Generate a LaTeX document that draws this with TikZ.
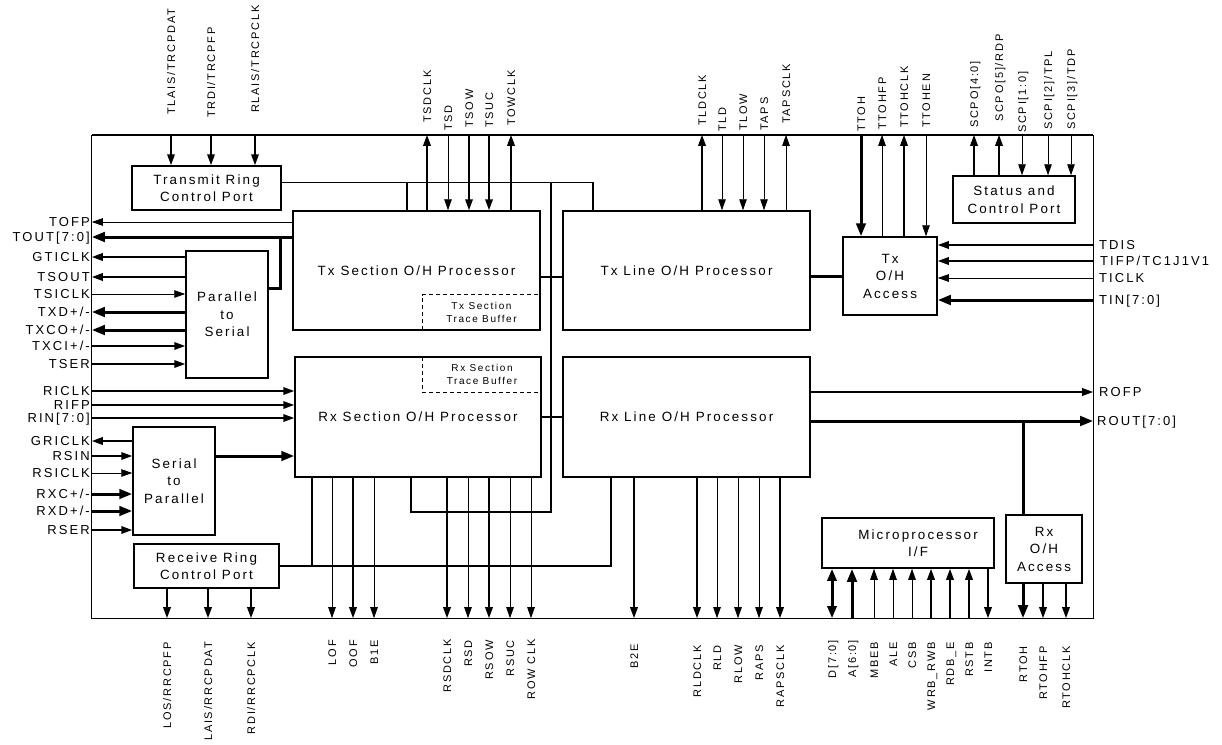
\documentclass[tikz,border=0pt]{standalone}
\usepackage{fontspec}
\newfontfamily\af{Liberation Sans}[LetterSpace=16]
\usetikzlibrary{arrows.meta}
\begin{document}
\begin{tikzpicture}[x=1pt,y=-1pt,
  thn/.style={line width=0.8pt},
  med/.style={line width=1.8pt},
  thk/.style={line width=3pt},
  arr/.style={-{Triangle[length=11pt,width=7.5pt]}},
  arrk/.style={-{Triangle[length=13pt,width=9.5pt]}},
  biarr/.style={{Triangle[length=12pt,width=9pt]}-{Triangle[length=12pt,width=9pt]}},
  blk/.style={draw, line width=1.5pt, inner sep=0pt, align=center, font=\af\fontsize{13.4}{17.5}\selectfont},
  ll/.style={anchor=east, inner sep=0pt, font=\af\fontsize{13}{15}\selectfont, text height=9.4pt, text depth=0pt},
  rl/.style={ll, anchor=west},
  tl/.style={rotate=90, anchor=west, inner sep=0pt, font=\af\fontsize{11}{13}\selectfont, text height=8pt, text depth=0pt},
  bl/.style={tl, anchor=east},
  tbtext/.style={inner sep=0pt, align=center, font=\af\fontsize{10}{13}\selectfont},
  dsh/.style={line width=1.2pt, dash pattern=on 4pt off 3pt},
]
\useasboundingbox (0,0) rectangle (1222,744);

% outer chip
\node[minimum width=1001pt, minimum height=483pt, inner sep=0pt] (chip) at (592.5,376.5) {};
\draw[line width=0.9pt] (chip.north west) -- (chip.south west) -- (chip.south east) -- (chip.north east);
\draw[line width=2.4pt] (chip.north west) -- (chip.north east);

% blocks
\node[blk, minimum width=149pt, minimum height=44pt] (trcp) at (206.5,188) {Transmit Ring\\Control Port};
\node[blk, minimum width=247pt, minimum height=119pt] (txs) at (416.5,270.5) {Tx Section O/H Processor};
\node[blk, minimum width=246pt, minimum height=120pt] (rxs) at (418,417) {Rx Section O/H Processor};
\node[blk, minimum width=247pt, minimum height=119pt] (txl) at (686.5,270.5) {Tx Line O/H Processor};
\node[blk, minimum width=247pt, minimum height=120pt] (rxl) at (686.5,417) {Rx Line O/H Processor};
\node[blk, minimum width=82pt, minimum height=127pt] (p2s) at (227,314.5) {Parallel\\to\\Serial};
\node[blk, minimum width=82pt, minimum height=108pt] (s2p) at (174,481) {Serial\\to\\Parallel};
\node[blk, minimum width=145pt, minimum height=44pt] (rrcp) at (206.5,566) {Receive Ring\\Control Port};
\node[blk, minimum width=94pt, minimum height=78pt] (txoh) at (890,276) {Tx\\O/H\\Access};
\node[blk, minimum width=122pt, minimum height=47pt] (scp) at (1014,199.5) {Status and\\Control Port};
\node[blk, minimum width=172pt, minimum height=50pt,
  label={[blk, draw=none, xshift=10pt]center:Microprocessor\\I/F}] (up) at (908,543) {};
\node[blk, minimum width=76pt, minimum height=68pt] (rxoh) at (1044,549) {Rx\\O/H\\Access};

% trace buffers
\node[tbtext, minimum width=117pt, minimum height=35pt] (txtb) at (481.5,312.5) {Tx Section\\Trace Buffer};
\node[tbtext, minimum width=118pt, minimum height=35pt] (rxtb) at (482,374.5) {Rx Section\\Trace Buffer};
\draw[dsh] (txtb.south west) -- (txtb.north west) -- (txtb.north east);
\draw[dsh] (rxtb.north west) -- (rxtb.south west) -- (rxtb.south east);

% left labels
\node[ll] (tofp) at (90,222) {TOFP};
\node[ll] (tout) at (90,237) {TOUT[7:0]};
\node[ll] (gticlk) at (90,257) {GTICLK};
\node[ll] (tsout) at (90,277) {TSOUT};
\node[ll] (tsiclk) at (90,294) {TSICLK};
\node[ll] (txd) at (90,312) {TXD+/-};
\node[ll] (txco) at (90,330) {TXCO+/-};
\node[ll] (txci) at (90,346) {TXCI+/-};
\node[ll] (tser) at (90,364) {TSER};
\node[ll] (riclk) at (90,391) {RICLK};
\node[ll] (rifp) at (90,405) {RIFP};
\node[ll] (rin) at (90,418) {RIN[7:0]};
\node[ll] (griclk) at (90,441) {GRICLK};
\node[ll] (rsin) at (90,456) {RSIN};
\node[ll] (rsiclk) at (90,473) {RSICLK};
\node[ll] (rxc) at (90,494) {RXC+/-};
\node[ll] (rxd) at (90,511) {RXD+/-};
\node[ll] (rser) at (90,530) {RSER};

% right labels
\node[rl] (tdis) at (1099,245) {TDIS};
\node[rl] (tifp) at (1100,261) {TIFP/TC1J1V1};
\node[rl] (ticlk) at (1099,278) {TICLK};
\node[rl] (tin) at (1099,300) {TIN[7:0]};
\node[rl] (rofp) at (1099,392) {ROFP};
\node[rl] (rout) at (1097,421) {ROUT[7:0]};

% top labels
\node[tl] (tlais) at (171,115) {TLAIS/TRCPDAT};
\node[tl] (trdi) at (211,118) {TRDI/TRCPFP};
\node[tl] (rlais) at (255,113) {RLAIS/TRCPCLK};
\node[tl] (tsdclk) at (427,123) {TSDCLK};
\node[tl] (tsd) at (448,131) {TSD};
\node[tl] (tsow) at (469,128) {TSOW};
\node[tl] (tsuc) at (489,128) {TSUC};
\node[tl] (towclk) at (511,126) {TOWCLK};
\node[tl] (tldclk) at (702,126) {TLDCLK};
\node[tl] (tld) at (722,132) {TLD};
\node[tl] (tlow) at (743,131) {TLOW};
\node[tl] (taps) at (764,131) {TAPS};
\node[tl] (tapsclk) at (786,124) {TAPSCLK};
\node[tl] (ttoh) at (861,132) {TTOH};
\node[tl] (ttohfp) at (882,130) {TTOHFP};
\node[tl] (ttohclk) at (904,128) {TTOHCLK};
\node[tl] (ttohen) at (926,128) {TTOHEN};
\node[tl] (scpo4) at (974,128) {SCPO[4:0]};
\node[tl] (scpo5) at (999,122) {SCPO[5]/RDP};
\node[tl] (scpi1) at (1022,133) {SCPI[1:0]};
\node[tl] (scpi2) at (1048,130) {SCPI[2]/TPL};
\node[tl] (scpi3) at (1071,130) {SCPI[3]/TDP};

% bottom labels
\node[bl] (los) at (167,642) {LOS/RRCPFP};
\node[bl] (lais) at (208,642) {LAIS/RRCPDAT};
\node[bl] (rdi) at (251,642) {RDI/RRCPCLK};
\node[bl] (lof) at (332,640) {LOF};
\node[bl] (oof) at (353,640) {OOF};
\node[bl] (b1e) at (374,640) {B1E};
\node[bl] (rsdclk) at (447,639) {RSDCLK};
\node[bl] (rsd) at (468,640) {RSD};
\node[bl] (rsow) at (489,640) {RSOW};
\node[bl] (rsuc) at (510,640) {RSUC};
\node[bl] (rowclk) at (531,639) {ROW CLK};
\node[bl] (b2e) at (634,644) {B2E};
\node[bl] (rldclk) at (697,645) {RLDCLK};
\node[bl] (rld) at (717,645) {RLD};
\node[bl] (rlow) at (738,645) {RLOW};
\node[bl] (raps) at (759,645) {RAPS};
\node[bl] (rapsclk) at (780,645) {RAPSCLK};
\node[bl] (d70) at (832,640) {D[7:0]};
\node[bl] (a60) at (852,640) {A[6:0]};
\node[bl] (mbeb) at (874,642) {MBEB};
\node[bl] (ale) at (893,642) {ALE};
\node[bl] (csb) at (912,642) {CSB};
\node[bl] (wrb) at (931,642) {WRB\_RWB};
\node[bl] (rdb) at (950,642) {RDB\_E};
\node[bl] (rstb) at (969,642) {RSTB};
\node[bl] (intb) at (988,642) {INTB};
\node[bl] (rtoh) at (1023,646) {RTOH};
\node[bl] (rtohfp) at (1043,646) {RTOHFP};
\node[bl] (rtohclk) at (1066,646) {RTOHCLK};

% internal bus coordinates
\coordinate (b1) at (593,182);
\coordinate (b2) at (407,182);
\coordinate (b3) at (551,182);
\coordinate (b5) at (411,512);
\coordinate (pj) at (280,288);
\coordinate (c312) at (312,566);
\coordinate (c611) at (611,566);

% internal connections
\draw[thn] (trcp.east |- b1) -- (b1);
\draw[med] (b1) -- (b1 |- txl.north);
\draw[med] (b2) -- (b2 |- txs.north);
\draw[med] (b3) |- (b5) -- (b5 |- rxs.south);
\draw[med] ([yshift=-6.5pt]txs.east) -- ([yshift=-6.5pt]txl.west);
\draw[med] (rxs.east) -- (rxl.west);
\draw[thk] (txl.east |- txoh.west) -- (txoh.west);
\draw[thk] (p2s.east |- pj) -- (pj) -- (pj |- tout);
\draw[thk,arrk] (s2p.east |- rsin) -- (rxs.west |- rsin);
\draw[med] (c312 |- rxs.south) -- (c312);
\draw[med] (rrcp.east) -- (c611) -- (c611 |- rxl.south);
\draw[thk] (rtoh |- rout) -- (rtoh |- rxoh.north);

% left pins
\draw[thn,arr] (txs.west |- tofp) -- (chip.west |- tofp);
\draw[thk,arrk] (txs.west |- tout) -- (chip.west |- tout);
\draw[med,arr] (p2s.west |- gticlk) -- (chip.west |- gticlk);
\draw[med,arr] (p2s.west |- tsout) -- (chip.west |- tsout);
\draw[thn,arr] (chip.west |- tsiclk) -- (p2s.west |- tsiclk);
\draw[thk,arrk] (p2s.west |- txd) -- (chip.west |- txd);
\draw[thk,arrk] (p2s.west |- txco) -- (chip.west |- txco);
\draw[med,arr] (chip.west |- txci) -- (p2s.west |- txci);
\draw[med,arr] (chip.west |- tser) -- (p2s.west |- tser);
\draw[med,arr] (chip.west |- riclk) -- (rxs.west |- riclk);
\draw[med,arr] (chip.west |- rifp) -- (rxs.west |- rifp);
\draw[med,arr] (chip.west |- rin) -- (rxs.west |- rin);
\draw[med,arr] (s2p.west |- griclk) -- (chip.west |- griclk);
\draw[med,arr] (chip.west |- rsin) -- (s2p.west |- rsin);
\draw[thn,arr] (chip.west |- rsiclk) -- (s2p.west |- rsiclk);
\draw[thk,arrk] (chip.west |- rxc) -- (s2p.west |- rxc);
\draw[thk,arrk] (chip.west |- rxd) -- (s2p.west |- rxd);
\draw[med,arr] (chip.west |- rser) -- (s2p.west |- rser);

% top pins
\draw[med,arr] (tlais |- chip.north) -- (tlais |- trcp.north);
\draw[med,arr] (trdi |- chip.north) -- (trdi |- trcp.north);
\draw[med,arr] (rlais |- chip.north) -- (rlais |- trcp.north);
\draw[med,arr] (tsdclk |- txs.north) -- (tsdclk |- chip.north);
\draw[thn,arr] (tsd |- chip.north) -- (tsd |- txs.north);
\draw[med,arr] (tsow |- chip.north) -- (tsow |- txs.north);
\draw[med,arr] (tsuc |- chip.north) -- (tsuc |- txs.north);
\draw[med,arr] (towclk |- txs.north) -- (towclk |- chip.north);
\draw[med,arr] (tldclk |- txl.north) -- (tldclk |- chip.north);
\draw[thn,arr] (tld |- chip.north) -- (tld |- txl.north);
\draw[thn,arr] (tlow |- chip.north) -- (tlow |- txl.north);
\draw[thn,arr] (taps |- chip.north) -- (taps |- txl.north);
\draw[thn,arr] (tapsclk |- txl.north) -- (tapsclk |- chip.north);
\draw[thk,arrk] (ttoh |- chip.north) -- (ttoh |- txoh.north);
\draw[thn,arr] (ttohfp |- txoh.north) -- (ttohfp |- chip.north);
\draw[med,arr] (ttohclk |- txoh.north) -- (ttohclk |- chip.north);
\draw[thn,arr] (ttohen |- chip.north) -- (ttohen |- txoh.north);
\draw[med,arr] (scpo4 |- scp.north) -- (scpo4 |- chip.north);
\draw[med,arr] (scpo5 |- scp.north) -- (scpo5 |- chip.north);
\draw[thn,arr] (scpi1 |- chip.north) -- (scpi1 |- scp.north);
\draw[thn,arr] (scpi2 |- chip.north) -- (scpi2 |- scp.north);
\draw[thn,arr] (scpi3 |- chip.north) -- (scpi3 |- scp.north);

% right pins
\draw[med,arr] (chip.east |- tdis) -- (txoh.east |- tdis);
\draw[med,arr] (chip.east |- tifp) -- (txoh.east |- tifp);
\draw[thn,arr] (chip.east |- ticlk) -- (txoh.east |- ticlk);
\draw[thk,arrk] (chip.east |- tin) -- (txoh.east |- tin);
\draw[med,arr] (rxl.east |- rofp) -- (chip.east |- rofp);
\draw[thk,arrk] (rxl.east |- rout) -- (chip.east |- rout);

% bottom pins
\draw[med,arr] (los |- rrcp.south) -- (los |- chip.south);
\draw[med,arr] (lais |- rrcp.south) -- (lais |- chip.south);
\draw[med,arr] (rdi |- rrcp.south) -- (rdi |- chip.south);
\draw[thn,arr] (lof |- rxs.south) -- (lof |- chip.south);
\draw[med,arr] (oof |- rxs.south) -- (oof |- chip.south);
\draw[thn,arr] (b1e |- rxs.south) -- (b1e |- chip.south);
\draw[med,arr] (rsdclk |- rxs.south) -- (rsdclk |- chip.south);
\draw[thn,arr] (rsd |- rxs.south) -- (rsd |- chip.south);
\draw[med,arr] (rsow |- rxs.south) -- (rsow |- chip.south);
\draw[thn,arr] (rsuc |- rxs.south) -- (rsuc |- chip.south);
\draw[thn,arr] (rowclk |- rxs.south) -- (rowclk |- chip.south);
\draw[med,arr] (b2e |- rxl.south) -- (b2e |- chip.south);
\draw[med,arr] (rldclk |- rxl.south) -- (rldclk |- chip.south);
\draw[thn,arr] (rld |- rxl.south) -- (rld |- chip.south);
\draw[thn,arr] (rlow |- rxl.south) -- (rlow |- chip.south);
\draw[thn,arr] (raps |- rxl.south) -- (raps |- chip.south);
\draw[med,arr] (rapsclk |- rxl.south) -- (rapsclk |- chip.south);
\draw[thk,biarr] (d70 |- chip.south) -- (d70 |- up.south);
\draw[thk,arrk] (a60 |- chip.south) -- (a60 |- up.south);
\draw[thn,arr] (mbeb |- chip.south) -- (mbeb |- up.south);
\draw[thn,arr] (ale |- chip.south) -- (ale |- up.south);
\draw[thn,arr] (csb |- chip.south) -- (csb |- up.south);
\draw[med,arr] (wrb |- chip.south) -- (wrb |- up.south);
\draw[med,arr] (rdb |- chip.south) -- (rdb |- up.south);
\draw[med,arr] (rstb |- chip.south) -- (rstb |- up.south);
\draw[med,arr] (intb |- up.south) -- (intb |- chip.south);
\draw[thk,arrk] (rtoh |- rxoh.south) -- (rtoh |- chip.south);
\draw[med,arr] (rtohfp |- rxoh.south) -- (rtohfp |- chip.south);
\draw[med,arr] (rtohclk |- rxoh.south) -- (rtohclk |- chip.south);
\end{tikzpicture}
\end{document}
